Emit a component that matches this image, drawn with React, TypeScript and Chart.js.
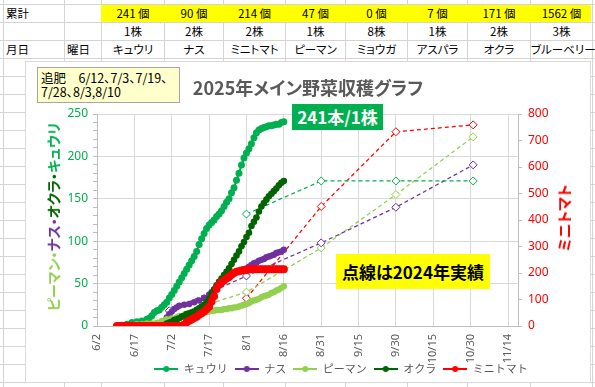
import React, { useEffect, useRef } from 'react';
import { Chart, registerables } from 'chart.js';
Chart.register(...registerables);

const FONT_JP = '"Noto Sans CJK JP", "Noto Sans", sans-serif';
const FONT_NUM = '"Noto Sans", "Liberation Sans", sans-serif';

// ---- spreadsheet cells ----
const rowTotals = ['累計', '', '241 個', '90 個', '214 個', '47 個', '0 個', '7 個', '171 個', '1562 個'];
const rowPlants = ['', '', '1株', '2株', '2株', '1株', '8株', '1株', '2株', '3株'];
const rowNames = ['月日', '曜日', 'キュウリ', 'ナス', 'ミニトマト', 'ピーマン', 'ミョウガ', 'アスパラ', 'オクラ', 'ブルーベリー'];

// ---- chart data ----
const seriesNames = ['キュウリ', 'ナス', 'ピーマン', 'オクラ', 'ミニトマト'];
const xTickLabels = ['6/2', '6/17', '7/2', '7/17', '8/1', '8/16', '8/31', '9/15', '9/30', '10/15', '10/30', '11/14'];
const xMinDate = '6/2';
const xMaxDate = '11/18';

const cucumber2025: [string, number][] = [
  ['6/10', 0], ['6/12', 1], ['6/14', 2], ['6/16', 4], ['6/18', 5], ['6/20', 6], ['6/22', 8], ['6/23', 9],
  ['6/24', 12], ['6/25', 16], ['6/26', 18], ['6/27', 19], ['6/28', 22], ['6/29', 25], ['6/30', 28],
  ['7/1', 33], ['7/2', 37], ['7/3', 42], ['7/4', 47], ['7/5', 52], ['7/6', 57], ['7/7', 62], ['7/8', 67],
  ['7/9', 72], ['7/10', 77], ['7/11', 82], ['7/12', 88], ['7/13', 96], ['7/14', 103], ['7/15', 109],
  ['7/16', 115], ['7/17', 119], ['7/18', 122], ['7/19', 125], ['7/20', 129], ['7/21', 132], ['7/22', 136],
  ['7/23', 141], ['7/24', 146], ['7/25', 150], ['7/26', 157], ['7/27', 163], ['7/28', 172], ['7/29', 180],
  ['7/30', 190], ['7/31', 198], ['8/1', 204], ['8/2', 209], ['8/3', 215], ['8/4', 222], ['8/5', 228],
  ['8/6', 231], ['8/7', 233], ['8/8', 234], ['8/9', 235], ['8/10', 236], ['8/11', 236], ['8/12', 237],
  ['8/13', 238], ['8/14', 238], ['8/15', 240], ['8/16', 241],
];
const eggplant2025: [string, number][] = [
  ['6/27', 0], ['6/28', 2], ['6/29', 6], ['6/30', 10], ['7/1', 14], ['7/2', 17], ['7/3', 20], ['7/4', 22],
  ['7/5', 24], ['7/7', 25], ['7/9', 26], ['7/11', 28], ['7/13', 30], ['7/15', 33], ['7/17', 37], ['7/18', 40],
  ['7/19', 43], ['7/20', 46], ['7/21', 49], ['7/22', 51], ['7/23', 54], ['7/24', 56], ['7/25', 58],
  ['7/26', 60], ['7/27', 62], ['7/28', 64], ['7/29', 65], ['7/30', 66], ['7/31', 67], ['8/1', 68],
  ['8/2', 70], ['8/3', 72], ['8/4', 74], ['8/5', 75], ['8/6', 77], ['8/7', 78], ['8/8', 79], ['8/9', 81],
  ['8/10', 82], ['8/11', 83], ['8/12', 84], ['8/13', 86], ['8/14', 87], ['8/15', 88], ['8/16', 90],
];
const pepper2025: [string, number][] = [
  ['6/14', 0], ['6/16', 1], ['6/18', 2], ['6/20', 2], ['6/22', 3], ['6/24', 3], ['6/26', 4], ['6/28', 6],
  ['6/30', 8], ['7/2', 9], ['7/4', 10], ['7/6', 11], ['7/8', 13], ['7/10', 14], ['7/12', 15], ['7/14', 16],
  ['7/15', 16], ['7/16', 17], ['7/17', 17], ['7/18', 18], ['7/19', 18], ['7/20', 19], ['7/21', 19],
  ['7/22', 19], ['7/23', 20], ['7/24', 20], ['7/25', 21], ['7/26', 21], ['7/27', 22], ['7/28', 22],
  ['7/29', 23], ['7/30', 24], ['7/31', 25], ['8/1', 26], ['8/2', 27], ['8/3', 29], ['8/4', 30], ['8/5', 31],
  ['8/6', 32], ['8/7', 34], ['8/8', 35], ['8/9', 36], ['8/10', 37], ['8/11', 39], ['8/12', 40], ['8/13', 42],
  ['8/14', 43], ['8/15', 45], ['8/16', 47],
];
const okra2025: [string, number][] = [
  ['6/28', 0], ['6/30', 3], ['7/1', 4], ['7/2', 5], ['7/3', 7], ['7/4', 8], ['7/5', 9], ['7/6', 11],
  ['7/7', 12], ['7/8', 14], ['7/9', 15], ['7/10', 16], ['7/11', 17], ['7/12', 19], ['7/13', 21], ['7/14', 23],
  ['7/15', 25], ['7/16', 28], ['7/17', 32], ['7/18', 38], ['7/19', 43], ['7/20', 48], ['7/21', 52],
  ['7/22', 56], ['7/23', 60], ['7/24', 64], ['7/25', 68], ['7/26', 73], ['7/27', 78], ['7/28', 83],
  ['7/29', 88], ['7/30', 94], ['7/31', 99], ['8/1', 105], ['8/2', 110], ['8/3', 118], ['8/4', 123],
  ['8/5', 128], ['8/6', 135], ['8/7', 141], ['8/8', 145], ['8/9', 149], ['8/10', 153], ['8/11', 156],
  ['8/12', 159], ['8/13', 162], ['8/14', 166], ['8/15', 169], ['8/16', 171],
];
const tomato2025: [string, number][] = [
  ['6/10', 0], ['6/11', 0], ['6/12', 0], ['6/13', 0], ['6/14', 0], ['6/15', 0], ['6/16', 0], ['6/17', 0],
  ['6/18', 0], ['6/19', 0], ['6/20', 0], ['6/21', 0], ['6/22', 0], ['6/23', 0], ['6/24', 0], ['6/25', 0],
  ['6/26', 0], ['6/27', 0], ['6/28', 0], ['6/29', 0], ['6/30', 0], ['7/1', 0], ['7/2', 0], ['7/3', 0],
  ['7/4', 0], ['7/5', 0], ['7/6', 0], ['7/7', 6], ['7/8', 14], ['7/9', 20], ['7/10', 25], ['7/11', 30],
  ['7/12', 35], ['7/13', 42], ['7/14', 48], ['7/15', 55], ['7/16', 63], ['7/17', 73], ['7/18', 92],
  ['7/19', 112], ['7/20', 140], ['7/21', 156], ['7/22', 165], ['7/23', 172], ['7/24', 179], ['7/25', 185],
  ['7/26', 193], ['7/27', 200], ['7/28', 205], ['7/29', 207], ['7/30', 209], ['7/31', 210], ['8/1', 211],
  ['8/2', 213], ['8/3', 214], ['8/4', 214], ['8/5', 214], ['8/6', 214], ['8/7', 214], ['8/8', 214],
  ['8/9', 214], ['8/10', 214], ['8/11', 214], ['8/12', 214], ['8/13', 214], ['8/14', 214], ['8/15', 214],
  ['8/16', 214],
];
const cucumber2024: [string, number][] = [['8/1', 132], ['8/31', 171], ['9/30', 171], ['10/31', 171]];
const eggplant2024: [string, number][] = [['7/1', 18], ['8/1', 59], ['8/31', 98], ['9/30', 140], ['10/31', 190]];
const pepper2024: [string, number][] = [['7/1', 11], ['8/1', 40], ['8/31', 92], ['9/30', 155], ['10/31', 223]];
const tomato2024: [string, number][] = [['8/1', 105], ['8/31', 451], ['9/30', 733], ['10/31', 759]];

const COLORS = {
  cucumber: '#00b050',
  eggplant: '#7030a0',
  pepper: '#92d050',
  okra: '#006400',
  tomato: '#ff0000',
};

function dayOf(md: string): number {
  const [m, d] = md.split('/').map(Number);
  const base = new Date(2025, 5, 2).getTime();
  return Math.round((new Date(2025, m - 1, d).getTime() - base) / 86400000);
}
function mdOf(day: number): string {
  const dt = new Date(2025, 5, 2 + Math.round(day));
  return `${dt.getMonth() + 1}/${dt.getDate()}`;
}
function pts(list: [string, number][]) {
  return list.map(([d, v]) => ({ x: dayOf(d), y: v }));
}

const colLines = [3, 64, 101, 164, 223, 285, 345, 407, 467, 530, 592];

function makeIcon(color: string): HTMLCanvasElement {
  const c = document.createElement('canvas');
  c.width = 24;
  c.height = 8;
  const g = c.getContext('2d')!;
  g.strokeStyle = color;
  g.lineWidth = 2;
  g.beginPath();
  g.moveTo(0, 4);
  g.lineTo(24, 4);
  g.stroke();
  g.fillStyle = color;
  g.beginPath();
  g.arc(12, 4, 3, 0, Math.PI * 2);
  g.fill();
  return c;
}

function ChartBox() {
  const ref = useRef<HTMLCanvasElement | null>(null);
  useEffect(() => {
    if (!ref.current) return;
    const colorList = [COLORS.cucumber, COLORS.eggplant, COLORS.pepper, COLORS.okra, COLORS.tomato];
    const icons = colorList.map(makeIcon);
    const solid = (label: string, data: [string, number][], color: string, order: number, radius: number, axis = 'y') => ({
      label,
      data: pts(data),
      borderColor: color,
      backgroundColor: color,
      pointBackgroundColor: color,
      pointBorderColor: color,
      borderWidth: 2,
      pointRadius: radius,
      pointHoverRadius: radius,
      pointBorderWidth: 0,
      order,
      yAxisID: axis,
      tension: 0,
    });
    const dashed = (label: string, data: [string, number][], color: string, axis = 'y') => ({
      label,
      data: pts(data),
      borderColor: color,
      backgroundColor: '#ffffff',
      borderWidth: 1.25,
      borderDash: [4, 3],
      pointStyle: 'rectRot',
      pointRadius: 4,
      pointHoverRadius: 4,
      pointBorderWidth: 1,
      pointBackgroundColor: '#ffffff',
      pointBorderColor: color,
      order: 10,
      yAxisID: axis,
      tension: 0,
    });
    const legendFix = {
      id: 'legendFix',
      beforeLayout(chart: any) {
        const l = chart.legend;
        if (l && !l.__patched) {
          const f = l.fit.bind(l);
          l.fit = () => {
            f();
            l.height = 20;
          };
          l.__patched = true;
        }
      },
      afterLayout(chart: any) {
        const l = chart.legend;
        if (l) {
          l.left += 33;
          l.right += 33;
          l.top -= 6.5;
          l.bottom -= 6.5;
        }
      },
    };
    const chart = new Chart(ref.current, {
      type: 'line',
      data: {
        datasets: [
          solid(seriesNames[0], cucumber2025, COLORS.cucumber, 5, 3.5),
          solid(seriesNames[1], eggplant2025, COLORS.eggplant, 4, 3.2),
          solid(seriesNames[2], pepper2025, COLORS.pepper, 3, 3.2),
          solid(seriesNames[3], okra2025, COLORS.okra, 2, 3.3),
          solid(seriesNames[4], tomato2025, COLORS.tomato, 1, 4, 'y2'),
          dashed('キュウリ2024', cucumber2024, COLORS.cucumber),
          dashed('ナス2024', eggplant2024, COLORS.eggplant),
          dashed('ピーマン2024', pepper2024, COLORS.pepper),
          dashed('ミニトマト2024', tomato2024, COLORS.tomato, 'y2'),
        ] as any,
      },
      options: {
        animation: false,
        responsive: false,
        devicePixelRatio: 1,
        layout: { padding: { top: 53, left: 0, right: 0, bottom: 0 } },
        scales: {
          x: {
            type: 'linear',
            min: dayOf(xMinDate),
            max: dayOf(xMaxDate),
            afterBuildTicks: (s: any) => {
              s.ticks = xTickLabels.map((l) => ({ value: dayOf(l) }));
            },
            ticks: {
              callback: (v: any) => mdOf(Number(v)),
              autoSkip: false,
              minRotation: 90,
              maxRotation: 90,
              padding: 8,
              color: '#595959',
              font: { family: FONT_NUM, size: 11 },
            },
            grid: { color: '#d9d9d9', drawTicks: false },
            border: { color: '#bfbfbf' },
            afterFit: (s: any) => {
              s.height = 37;
            },
          },
          y: {
            type: 'linear',
            position: 'left',
            min: 0,
            max: 250,
            ticks: {
              stepSize: 10,
              autoSkip: false,
              callback: (v: any) => (Number(v) % 50 === 0 ? String(v) : ''),
              color: '#00b050',
              padding: 5,
              font: { family: FONT_NUM, size: 12 },
            },
            grid: {
              color: (c: any) => (c.tick && c.tick.value % 50 === 0 ? '#d9d9d9' : 'rgba(0,0,0,0)'),
              tickColor: '#bfbfbf',
              tickLength: 4,
            },
            border: { color: '#bfbfbf' },
            afterFit: (s: any) => {
              s.width = 72;
            },
          },
          y2: {
            type: 'linear',
            position: 'right',
            min: 0,
            max: 800,
            ticks: {
              stepSize: 100,
              color: '#ff0000',
              padding: 6,
              font: { family: FONT_NUM, size: 12 },
            },
            grid: { drawOnChartArea: false, tickColor: '#bfbfbf', tickLength: 4 },
            border: { color: '#bfbfbf' },
            afterFit: (s: any) => {
              s.width = 73;
            },
          },
        },
        plugins: {
          tooltip: { enabled: false },
          legend: {
            position: 'bottom',
            labels: {
              usePointStyle: true,
              pointStyleWidth: 24,
              padding: 7,
              color: '#595959',
              font: { family: FONT_JP, size: 11 },
              generateLabels: (ch: any) => {
                const items = (Chart.defaults.plugins.legend.labels as any).generateLabels(ch);
                return items
                  .filter((i: any) => i.datasetIndex < 5)
                  .sort((a: any, b: any) => a.datasetIndex - b.datasetIndex)
                  .map((i: any) => ({ ...i, pointStyle: icons[i.datasetIndex] }));
              },
            },
          },
        },
      } as any,
      plugins: [legendFix],
    });
    return () => chart.destroy();
  }, []);

  const jp: React.CSSProperties = { fontFamily: FONT_JP, fontFeatureSettings: '"palt"', whiteSpace: 'nowrap' };

  return (
    <div
      style={{
        position: 'absolute',
        left: 25,
        top: 61,
        width: 566,
        height: 322,
        background: '#ffffff',
        outline: '1px solid #d9d9d9',
        outlineOffset: -1,
      }}
    >
      <canvas ref={ref} width={566} height={322} style={{ position: 'absolute', left: 0, top: 0, width: 566, height: 322 }} />
      <div
        style={{
          ...jp,
          position: 'absolute',
          left: 0,
          top: 13,
          width: 566,
          height: 26,
          lineHeight: '26px',
          textAlign: 'center',
          fontSize: 18,
          fontWeight: 700,
          color: '#595959',
        }}
      >
        2025年メイン野菜収穫グラフ
      </div>
      <div
        style={{
          ...jp,
          position: 'absolute',
          left: 12,
          top: 6,
          width: 143,
          height: 36,
          boxSizing: 'border-box',
          background: '#ffffcc',
          border: '1px solid #a6a6a6',
          padding: '3px 3px',
          fontSize: 12.5,
          lineHeight: '14px',
          color: '#000000',
        }}
      >
        <div>追肥　6/12、7/3、7/19、</div>
        <div>7/28、8/3,8/10</div>
      </div>
      <div
        style={{
          ...jp,
          position: 'absolute',
          left: 267,
          top: 43,
          width: 91,
          height: 26,
          lineHeight: '26px',
          background: '#00b050',
          color: '#ffffff',
          fontWeight: 700,
          fontSize: 17,
          textAlign: 'center',
        }}
      >
        241本/1株
      </div>
      <div
        style={{
          ...jp,
          position: 'absolute',
          left: 311,
          top: 193,
          width: 154,
          height: 35,
          lineHeight: '35px',
          background: '#ffff00',
          color: '#000000',
          fontWeight: 700,
          fontSize: 17,
          textAlign: 'center',
        }}
      >
        点線は2024年実績
      </div>
      <div
        style={{
          ...jp,
          position: 'absolute',
          left: 28,
          top: 156,
          transform: 'translate(-50%, -50%) rotate(-90deg)',
          fontSize: 14,
          fontWeight: 700,
          lineHeight: '18px',
        }}
      >
        <span style={{ color: COLORS.pepper }}>ピーマン・</span>
        <span style={{ color: COLORS.eggplant }}>ナス・</span>
        <span style={{ color: COLORS.okra }}>オクラ・</span>
        <span style={{ color: COLORS.cucumber }}>キュウリ</span>
      </div>
      <div
        style={{
          ...jp,
          position: 'absolute',
          left: 539,
          top: 157,
          transform: 'translate(-50%, -50%) rotate(-90deg)',
          fontSize: 15,
          fontWeight: 700,
          lineHeight: '18px',
          color: '#ff0000',
        }}
      >
        ミニトマト
      </div>
    </div>
  );
}

export default function App() {
  const rows = [rowTotals, rowPlants, rowNames];
  const hLines: number[] = [];
  for (let y = 4; y < 387; y += 18) hLines.push(y);
  return (
    <div
      style={{
        position: 'fixed',
        left: 0,
        top: 0,
        width: 595,
        height: 387,
        overflow: 'hidden',
        background: '#ffffff',
        fontFamily: FONT_JP,
      }}
    >
      {hLines.map((y) => (
        <div key={'h' + y} style={{ position: 'absolute', left: 0, top: y, width: 595, height: 1, background: '#d4d4d4' }} />
      ))}
      {colLines.map((x) => (
        <div key={'v' + x} style={{ position: 'absolute', left: x, top: 0, width: 1, height: 387, background: '#d4d4d4' }} />
      ))}
      <div style={{ position: 'absolute', left: 101, top: 5, width: 591 - 101, height: 17, background: '#ffff00' }} />
      {rows.map((row, r) =>
        row.map((txt, c) => (
          <div
            key={r + '-' + c}
            style={{
              position: 'absolute',
              left: colLines[c] + 1,
              top: 5 + r * 18,
              width: colLines[c + 1] - colLines[c] - 1,
              height: 17,
              lineHeight: '17px',
              fontSize: 11.5,
              fontFeatureSettings: '"palt"',
              textAlign: c < 2 ? 'left' : 'center',
              paddingLeft: c < 2 ? 2 : 0,
              boxSizing: 'border-box',
              color: '#000000',
              whiteSpace: 'nowrap',
            }}
          >
            {txt}
          </div>
        ))
      )}
      <ChartBox />
    </div>
  );
}
